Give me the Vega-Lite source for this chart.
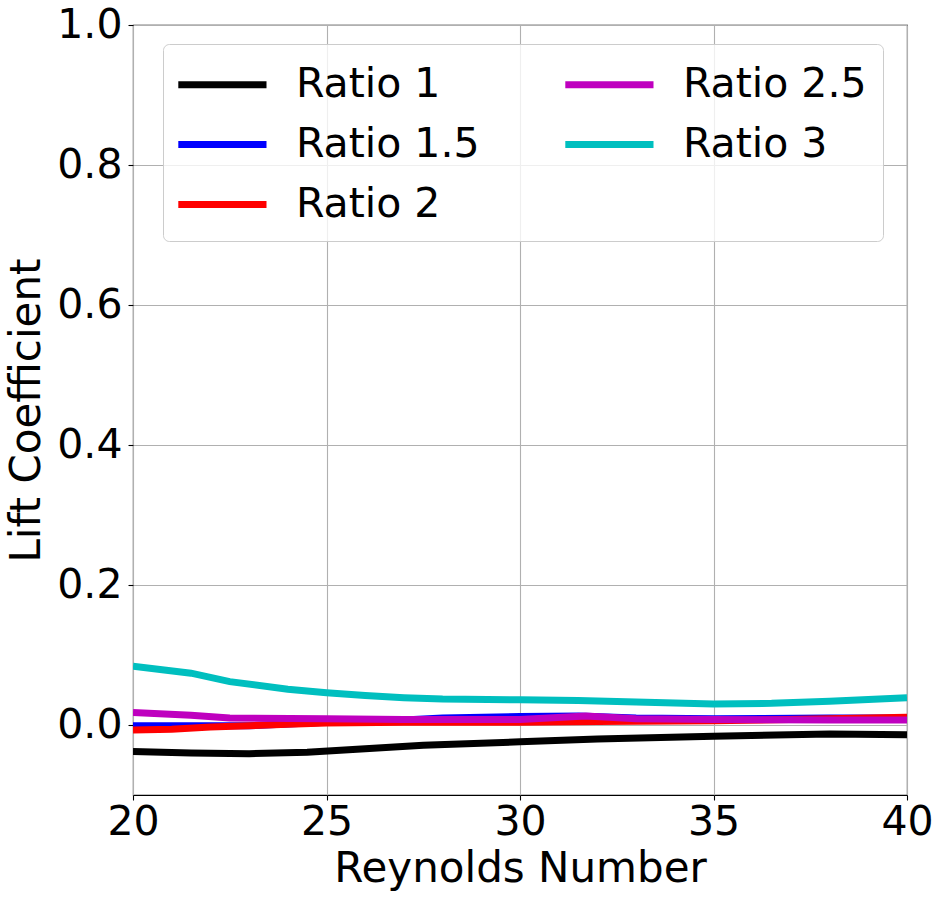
{
  "$schema": "https://vega.github.io/schema/vega-lite/v6.json",
  "width": 774,
  "height": 770,
  "autosize": {"type": "none"},
  "padding": {"left": 133, "top": 25, "right": 36, "bottom": 105},
  "background": "white",
  "config": {
    "font": "DejaVu Sans",
    "view": {"stroke": "black", "strokeWidth": 1.1},
    "axis": {
      "labelFont": "DejaVu Sans", "labelFontSize": 41, "labelColor": "black",
      "titleFont": "DejaVu Sans", "titleFontSize": 42, "titleFontWeight": "normal", "titleColor": "black",
      "domain": false, "tickColor": "black", "tickSize": 5, "tickWidth": 1.1,
      "grid": true, "gridColor": "#b0b0b0", "gridWidth": 1.1
    }
  },
  "data": {"values": [
    {"Re": 20, "CL": -0.038, "series": "Ratio 1"},
    {"Re": 21.5, "CL": -0.040, "series": "Ratio 1"},
    {"Re": 23, "CL": -0.041, "series": "Ratio 1"},
    {"Re": 24.5, "CL": -0.039, "series": "Ratio 1"},
    {"Re": 26, "CL": -0.034, "series": "Ratio 1"},
    {"Re": 27.5, "CL": -0.029, "series": "Ratio 1"},
    {"Re": 30, "CL": -0.024, "series": "Ratio 1"},
    {"Re": 32, "CL": -0.020, "series": "Ratio 1"},
    {"Re": 35, "CL": -0.016, "series": "Ratio 1"},
    {"Re": 38, "CL": -0.013, "series": "Ratio 1"},
    {"Re": 40, "CL": -0.014, "series": "Ratio 1"},

    {"Re": 20, "CL": -0.001, "series": "Ratio 1.5"},
    {"Re": 23, "CL": -0.001, "series": "Ratio 1.5"},
    {"Re": 25, "CL": 0.004, "series": "Ratio 1.5"},
    {"Re": 27, "CL": 0.007, "series": "Ratio 1.5"},
    {"Re": 28, "CL": 0.010, "series": "Ratio 1.5"},
    {"Re": 30, "CL": 0.012, "series": "Ratio 1.5"},
    {"Re": 31.5, "CL": 0.013, "series": "Ratio 1.5"},
    {"Re": 33, "CL": 0.010, "series": "Ratio 1.5"},
    {"Re": 35, "CL": 0.009, "series": "Ratio 1.5"},
    {"Re": 38, "CL": 0.010, "series": "Ratio 1.5"},
    {"Re": 40, "CL": 0.010, "series": "Ratio 1.5"},

    {"Re": 20, "CL": -0.007, "series": "Ratio 2"},
    {"Re": 21, "CL": -0.006, "series": "Ratio 2"},
    {"Re": 22, "CL": -0.003, "series": "Ratio 2"},
    {"Re": 24, "CL": 0.001, "series": "Ratio 2"},
    {"Re": 25, "CL": 0.003, "series": "Ratio 2"},
    {"Re": 27, "CL": 0.004, "series": "Ratio 2"},
    {"Re": 30, "CL": 0.004, "series": "Ratio 2"},
    {"Re": 32, "CL": 0.005, "series": "Ratio 2"},
    {"Re": 35, "CL": 0.006, "series": "Ratio 2"},
    {"Re": 38, "CL": 0.009, "series": "Ratio 2"},
    {"Re": 40, "CL": 0.011, "series": "Ratio 2"},

    {"Re": 20, "CL": 0.018, "series": "Ratio 2.5"},
    {"Re": 21.5, "CL": 0.014, "series": "Ratio 2.5"},
    {"Re": 22.5, "CL": 0.010, "series": "Ratio 2.5"},
    {"Re": 25, "CL": 0.009, "series": "Ratio 2.5"},
    {"Re": 27, "CL": 0.008, "series": "Ratio 2.5"},
    {"Re": 30, "CL": 0.008, "series": "Ratio 2.5"},
    {"Re": 31.7, "CL": 0.013, "series": "Ratio 2.5"},
    {"Re": 33, "CL": 0.009, "series": "Ratio 2.5"},
    {"Re": 35, "CL": 0.008, "series": "Ratio 2.5"},
    {"Re": 38, "CL": 0.007, "series": "Ratio 2.5"},
    {"Re": 40, "CL": 0.007, "series": "Ratio 2.5"},

    {"Re": 20, "CL": 0.084, "series": "Ratio 3"},
    {"Re": 21.5, "CL": 0.074, "series": "Ratio 3"},
    {"Re": 22.5, "CL": 0.062, "series": "Ratio 3"},
    {"Re": 24, "CL": 0.051, "series": "Ratio 3"},
    {"Re": 25, "CL": 0.046, "series": "Ratio 3"},
    {"Re": 26, "CL": 0.042, "series": "Ratio 3"},
    {"Re": 27, "CL": 0.039, "series": "Ratio 3"},
    {"Re": 28, "CL": 0.037, "series": "Ratio 3"},
    {"Re": 30, "CL": 0.036, "series": "Ratio 3"},
    {"Re": 31.5, "CL": 0.035, "series": "Ratio 3"},
    {"Re": 33, "CL": 0.033, "series": "Ratio 3"},
    {"Re": 35, "CL": 0.030, "series": "Ratio 3"},
    {"Re": 36.5, "CL": 0.031, "series": "Ratio 3"},
    {"Re": 38, "CL": 0.034, "series": "Ratio 3"},
    {"Re": 40, "CL": 0.039, "series": "Ratio 3"}
  ]},
  "mark": {"type": "line", "strokeWidth": 7, "clip": true},
  "encoding": {
    "x": {"field": "Re", "type": "quantitative", "title": "Reynolds Number",
      "scale": {"domain": [20, 40], "nice": false, "zero": false},
      "axis": {"values": [20, 25, 30, 35, 40], "labelPadding": 2, "titlePadding": 6, "labelFlush": false}},
    "y": {"field": "CL", "type": "quantitative", "title": "Lift Coefficient",
      "scale": {"domain": [-0.1, 1.0], "nice": false, "zero": false},
      "axis": {"values": [0, 0.2, 0.4, 0.6, 0.8, 1.0], "format": ".1f", "labelPadding": 6, "titlePadding": 8}},
    "color": {"field": "series", "type": "nominal",
      "scale": {"domain": ["Ratio 1", "Ratio 1.5", "Ratio 2", "Ratio 2.5", "Ratio 3"],
                "range": ["#000000", "#0000ff", "#ff0000", "#bf00bf", "#00bfbf"]},
      "legend": {
        "title": null, "orient": "none", "legendX": 30, "legendY": 19, "columns": 2,
        "symbolType": "M-1.2,0H3.0", "symbolStrokeWidth": 7, "symbolSize": 1764,
        "labelFont": "DejaVu Sans", "labelFontSize": 41, "labelColor": "black", "labelOffset": 68, "labelLimit": 400,
        "rowPadding": 15, "columnPadding": 71,
        "padding": 16, "fillColor": "rgba(255,255,255,0.8)", "strokeColor": "#cccccc", "cornerRadius": 6
      }
    }
  }
}
